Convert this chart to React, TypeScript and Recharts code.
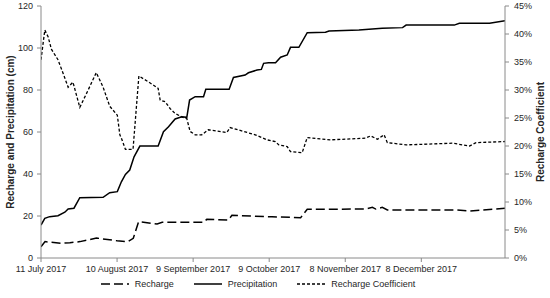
import React from 'react';
import { LineChart, Line, XAxis, YAxis, Legend } from 'recharts';

const tickDays = [0, 30, 60, 90, 120, 150];
const tickLabels = ['11 July 2017', '10 August 2017', '9 September 2017', '9 October 2017', '8 November 2017', '8 December 2017'];
const leftTicks = [0, 20, 40, 60, 80, 100, 120];
const rightTicks = [0, 5, 10, 15, 20, 25, 30, 35, 40, 45];

const precipDays = [0, 1.5, 3.4, 6.7, 9.4, 10.7, 13, 15.3, 24.5, 27.1, 30.1, 31.7, 33.3, 35, 36.7, 39, 46.2, 48.3, 50.3, 52.9, 55.5, 57.5, 58.6, 60.8, 64.1, 65, 74.2, 75.9, 80.5, 81.8, 85.2, 86.9, 87.8, 89.7, 92.5, 94.5, 97.1, 98.4, 101.7, 105, 112.2, 113.6, 125.4, 134.6, 142.6, 144, 163, 165, 176.9, 183];
const precipValues = [15.7, 18.9, 19.7, 20.1, 21.8, 23.3, 23.7, 28.7, 28.9, 31.1, 31.6, 36.3, 39.8, 41.9, 48.2, 53.3, 53.3, 60.1, 62.5, 66.2, 67.3, 67.0, 75.2, 76.8, 76.8, 80.3, 80.3, 86.0, 87.1, 88.2, 89.5, 89.8, 92.7, 93.0, 93.0, 95.6, 96.7, 100.3, 100.3, 107.3, 107.5, 108.1, 108.6, 109.4, 109.7, 110.9, 110.9, 111.8, 111.8, 113.0];

const rechargeDays = [0, 1.6, 8, 11.4, 15.4, 21.9, 30, 34.3, 36.4, 38.5, 45.8, 47.8, 64.1, 65.4, 73.9, 75.3, 91.1, 102.4, 105, 128, 130.7, 132, 134.6, 136.6, 163.7, 169, 183];
const rechargeValues = [5.4, 7.8, 7.0, 7.3, 7.8, 9.5, 8.2, 7.8, 9.4, 17.3, 16.2, 17.0, 17.0, 18.4, 18.1, 20.3, 19.6, 19.2, 23.2, 23.3, 24.1, 23.3, 24.1, 22.9, 22.9, 22.4, 23.7];

const coefDays = [0, 1.5, 2.8, 4.1, 6.7, 8.7, 10.7, 12.6, 15.3, 18.6, 21.8, 24.5, 27.1, 30.1, 31.1, 31.7, 33.3, 36.3, 38.6, 42.2, 46.2, 47, 49, 50.9, 52.9, 55.5, 57.5, 58.8, 60.8, 63.4, 66, 73.3, 74.6, 79.9, 84.5, 89.1, 92.4, 93.8, 97.1, 98.4, 103, 105, 114.2, 128, 130, 132.7, 135.3, 136.6, 144, 162.4, 169, 171.6, 183];
const coefValues = [35.4, 40.7, 39.5, 37.3, 35.4, 33.0, 30.5, 31.4, 26.9, 30.0, 33.1, 30.5, 27.1, 25.5, 22.0, 21.4, 19.4, 19.4, 32.5, 31.5, 30.3, 28.2, 27.9, 26.7, 25.8, 25.2, 24.9, 22.6, 22.0, 22.0, 22.9, 22.4, 23.3, 22.6, 22.0, 21.1, 20.8, 20.2, 19.9, 19.0, 18.8, 21.5, 21.1, 21.4, 21.8, 21.2, 22.0, 20.6, 20.2, 20.5, 20.0, 20.6, 20.8];

const precipData = precipDays.map((d, i) => ({ day: d, precip: precipValues[i] }));
const rechargeData = rechargeDays.map((d, i) => ({ day: d, recharge: rechargeValues[i] }));
const coefData = coefDays.map((d, i) => ({ day: d, coef: coefValues[i] }));

const FONT = '"Liberation Sans", Arial, sans-serif';
const TEXT = '#262626';
const AXIS = '#8a8a8a';

const legendItems = [
  { name: 'Recharge', dash: '9 4' },
  { name: 'Precipitation', dash: undefined as string | undefined },
  { name: 'Recharge Coefficient', dash: '3 2' },
];

const LegendContent = () => (
  <div style={{ display: 'flex', justifyContent: 'center', alignItems: 'center', fontFamily: FONT, fontSize: 9, color: TEXT, paddingRight: 14, height: 12, marginTop: -2 }}>
    {legendItems.map((it) => (
      <div key={it.name} style={{ display: 'flex', alignItems: 'center', marginRight: 20 }}>
        <svg width={28} height={8} style={{ marginRight: 6 }}>
          <line x1={0} y1={4} x2={28} y2={4} stroke="#000" strokeWidth={1.5} strokeDasharray={it.dash} />
        </svg>
        <span>{it.name}</span>
      </div>
    ))}
  </div>
);

export default function App() {
  return (
    <div style={{ position: 'absolute', left: 0, top: 0, background: '#fff' }}>
      <LineChart width={550} height={298} margin={{ top: 6, right: 0, left: 0, bottom: 0 }}>
        <XAxis
          dataKey="day"
          type="number"
          domain={[0, 183]}
          ticks={tickDays}
          interval={0}
          allowDataOverflow
          tickFormatter={(v: number) => tickLabels[tickDays.indexOf(v)] ?? ''}
          tick={{ fontSize: 9, fill: TEXT, fontFamily: FONT }}
          tickSize={4}
          tickMargin={4}
          tickLine={{ stroke: AXIS }}
          axisLine={{ stroke: AXIS }}
          height={22}
        />
        <XAxis
          xAxisId="top"
          dataKey="day"
          type="number"
          orientation="top"
          domain={[0, 183]}
          tick={false}
          tickLine={false}
          axisLine={{ stroke: AXIS }}
          height={0}
        />
        <YAxis
          yAxisId="left"
          domain={[0, 120]}
          ticks={leftTicks}
          interval={0}
          width={41}
          tickSize={4}
          tickMargin={4}
          tick={{ fontSize: 9, fill: TEXT, fontFamily: FONT }}
          tickLine={{ stroke: AXIS }}
          axisLine={{ stroke: AXIS }}
          label={{ value: 'Recharge and Precipitation  (cm)', angle: -90, position: 'insideLeft', offset: 10, style: { textAnchor: 'middle', fontSize: 10, fontWeight: 'bold', fill: TEXT, fontFamily: FONT } }}
        />
        <YAxis
          yAxisId="right"
          orientation="right"
          domain={[0, 45]}
          ticks={rightTicks}
          interval={0}
          width={45}
          tickSize={4}
          tickMargin={5}
          tickFormatter={(v: number) => `${v}%`}
          tick={{ fontSize: 9, fill: TEXT, fontFamily: FONT }}
          tickLine={{ stroke: AXIS }}
          axisLine={{ stroke: AXIS }}
          label={{ value: 'Recharge Coefficient', angle: -90, position: 'insideRight', offset: 10, style: { textAnchor: 'middle', fontSize: 10, fontWeight: 'bold', fill: TEXT, fontFamily: FONT } }}
        />
        <Legend verticalAlign="bottom" height={18} content={<LegendContent />} />
        <Line data={rechargeData} dataKey="recharge" name="Recharge" yAxisId="left" type="linear" stroke="#000" strokeWidth={1.5} strokeDasharray="9 4" dot={false} isAnimationActive={false} />
        <Line data={precipData} dataKey="precip" name="Precipitation" yAxisId="left" type="linear" stroke="#000" strokeWidth={1.5} dot={false} isAnimationActive={false} />
        <Line data={coefData} dataKey="coef" name="Recharge Coefficient" yAxisId="right" type="linear" stroke="#000" strokeWidth={1.3} strokeDasharray="3 2" dot={false} isAnimationActive={false} />
      </LineChart>
    </div>
  );
}
